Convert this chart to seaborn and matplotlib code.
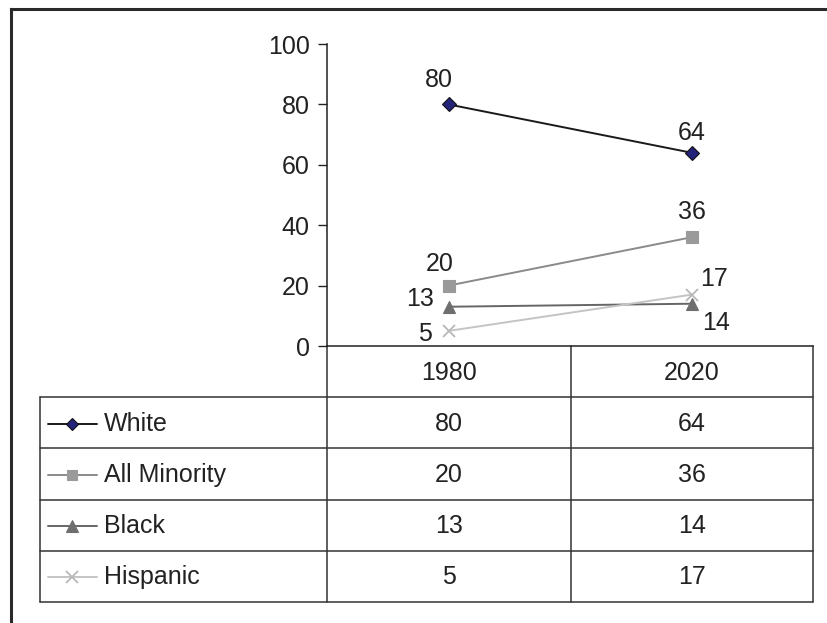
import numpy as np
import matplotlib
matplotlib.use("Agg")
import matplotlib.pyplot as plt
import seaborn as sns

# data
years = ["1980", "2020"]
groups = ["White", "All Minority", "Black", "Hispanic"]
white = [80, 64]
all_minority = [20, 36]
black = [13, 14]
hispanic = [5, 17]
series = [white, all_minority, black, hispanic]

# styles per group: line colour, marker, marker face, marker size
line_colors = ["#1a1a1a", "#8a8a8a", "#666666", "#c4c4c4"]
markers = ["D", "s", "^", "x"]
face_colors = ["#23237a", "#9a9a9a", "#6e6e6e", "#b8b8b8"]
edge_colors = ["#111111", "#9a9a9a", "#6e6e6e", "#b8b8b8"]
msizes = [7, 8, 9, 9]

# label offsets in pixels (Excel-style placement)
label_offsets = [
    [(-10, 24), (0, 20)],
    [(-9, 22), (0, 25)],
    [(-28, 8), (25, -19)],
    [(-24, -3), (23, 16)],
]

FS = 18
TXT = "#222222"

sns.set_style("white")
plt.rcParams["font.family"] = ["Liberation Sans", "DejaVu Sans"]

W, H = 827, 623
fig = plt.figure(figsize=(W / 100, H / 100), dpi=100)

# background axes in pixel coordinates for frame and data table
tab = fig.add_axes([0, 0, 1, 1])
tab.set_xlim(0, W)
tab.set_ylim(H, 0)
tab.axis("off")

# outer frame (top and left visible)
tab.plot([11, 11], [H, 9], color="#2a2a2a", lw=2.2, solid_capstyle="projecting")
tab.plot([11, W], [9, 9], color="#2a2a2a", lw=2.2, solid_capstyle="projecting")

# plot area
x0, x1, y_top, y_bot = 327, 813, 44, 346
ax = fig.add_axes([x0 / W, 1 - y_bot / H, (x1 - x0) / W, (y_bot - y_top) / H])
ax.set_facecolor("none")
xpos = np.arange(len(years))

for i, vals in enumerate(series):
    sns.lineplot(x=xpos, y=vals, ax=ax, color=line_colors[i], marker=markers[i],
                 markersize=msizes[i], markerfacecolor=face_colors[i],
                 markeredgecolor=edge_colors[i], markeredgewidth=1.3 if markers[i] == "x" else 0.8,
                 linewidth=1.4, clip_on=False)
    for j, v in enumerate(vals):
        ax.annotate(str(v), (xpos[j], v), xytext=label_offsets[i][j],
                    textcoords="offset pixels", ha="center", va="center",
                    fontsize=FS, color=TXT)

ax.set_xlim(-0.5, len(years) - 0.5)
ax.set_ylim(0, 100)
ax.set_yticks(range(0, 101, 20))
ax.set_xticks([])
ax.set_xlabel("")
ax.set_ylabel("")
for s in ["top", "right"]:
    ax.spines[s].set_visible(False)
for s in ["left", "bottom"]:
    ax.spines[s].set_color("#222222")
    ax.spines[s].set_linewidth(1.1)
ax.tick_params(axis="y", direction="out", length=6.5, width=1, color="#222222",
               labelsize=FS, labelcolor=TXT, pad=6, left=True)

# data table under the axis
lc = "#333333"
tl, col_div = 40, 571
hdr_bot, tab_bot = 397, 602
row_h = (tab_bot - hdr_bot) / len(groups)
col_centers = [(x0 + col_div) / 2, (col_div + x1) / 2]

# header row
tab.plot([x0, x0], [y_bot, tab_bot], color=lc, lw=1.1)
tab.plot([col_div, col_div], [y_bot, tab_bot], color=lc, lw=1.1)
tab.plot([x1, x1], [y_bot, tab_bot], color=lc, lw=1.1)
tab.plot([tl, tl], [hdr_bot, tab_bot], color=lc, lw=1.1)
for j, yr in enumerate(years):
    tab.text(col_centers[j], (y_bot + hdr_bot) / 2 + 1, yr, ha="center", va="center",
             fontsize=FS, color=TXT)

for i, g in enumerate(groups):
    top = hdr_bot + i * row_h
    tab.plot([tl, x1], [top, top], color=lc, lw=1.1)
    yc = top + row_h / 2 + 1
    # legend key
    tab.plot([48, 97], [yc, yc], color=line_colors[i], lw=1.4)
    tab.plot([72], [yc], marker=markers[i], markersize=msizes[i] - 0.5,
             markerfacecolor=face_colors[i], markeredgecolor=edge_colors[i],
             markeredgewidth=1.3 if markers[i] == "x" else 0.8, linestyle="none")
    tab.text(104, yc, g, ha="left", va="center", fontsize=FS, color=TXT)
    for j, v in enumerate(series[i]):
        tab.text(col_centers[j], yc, str(v), ha="center", va="center",
                 fontsize=FS, color=TXT)
tab.plot([tl, x1], [tab_bot, tab_bot], color=lc, lw=1.1)

fig.savefig("out.png", dpi=100)
